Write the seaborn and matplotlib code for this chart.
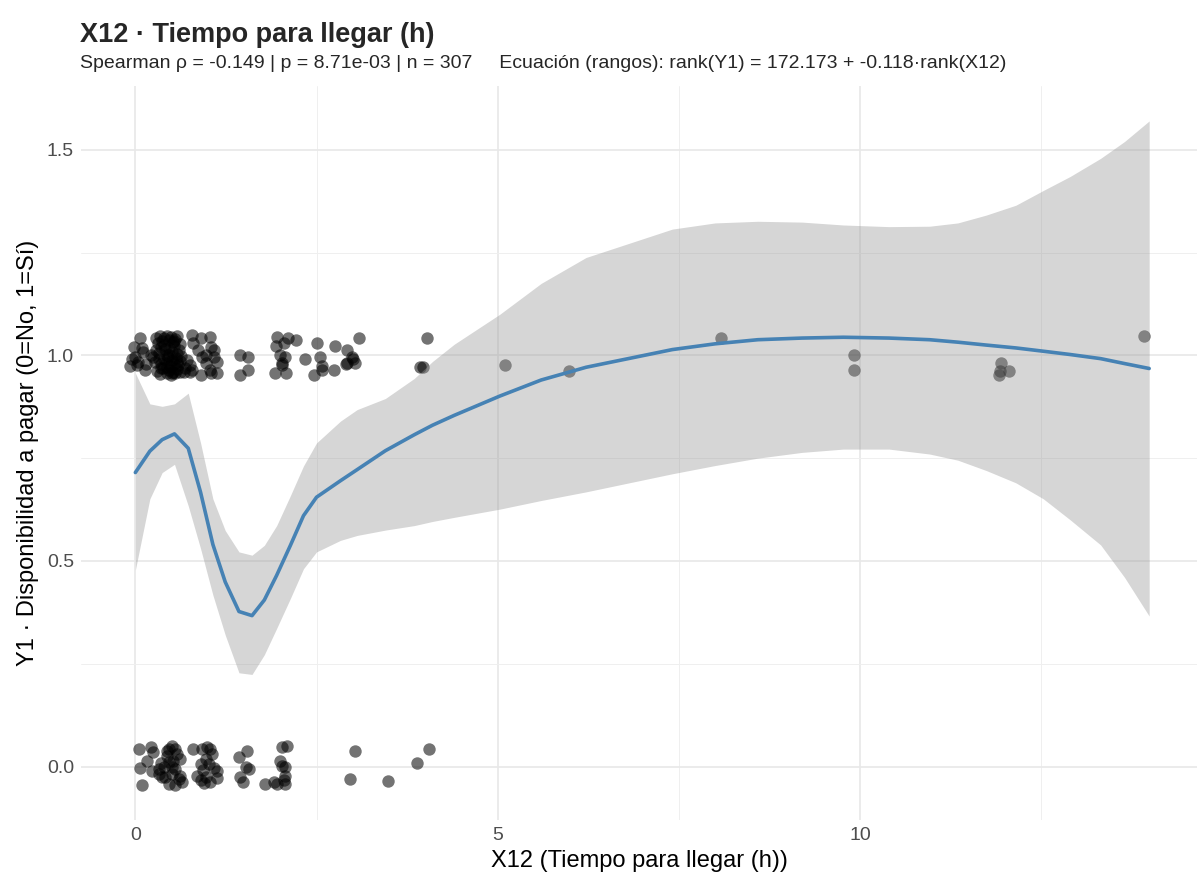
import numpy as np
import pandas as pd
import seaborn as sns
import matplotlib.pyplot as plt

# Puntos con Y1 = 1 (con jitter)
x_si = [-0.07, -0.02, 0.00, 0.07, 0.09, 0.02, 0.03, 0.11, 0.14, 0.15, -0.05, 0.21, 0.24,
        0.28, 0.31, 0.34, 0.37, 0.40, 0.43, 0.46, 0.49, 0.52, 0.55, 0.58, 0.61,
        0.29, 0.33, 0.36, 0.41, 0.44, 0.47, 0.50, 0.53, 0.57, 0.60, 0.63,
        0.27, 0.32, 0.35, 0.39, 0.42, 0.45, 0.48, 0.51, 0.54, 0.56, 0.59, 0.62,
        0.30, 0.34, 0.38, 0.43, 0.46, 0.49, 0.52, 0.55, 0.58, 0.61,
        0.36, 0.40, 0.44, 0.47, 0.50, 0.53, 0.57,
        0.78, 0.90, 1.03, 1.04, 0.80, 0.87, 1.08, 0.71, 0.75, 0.78, 0.92, 0.97, 0.98,
        1.09, 1.13, 1.03, 1.04, 0.90, 0.76, 0.67, 0.69, 1.12,
        1.44, 1.56, 1.56, 1.45,
        1.95, 2.10, 2.21, 1.94, 2.05, 2.00, 2.07, 2.02, 2.03, 1.93, 2.08,
        2.34, 2.51, 2.55, 2.57, 2.46, 2.58, 2.74, 2.76, 2.92, 2.99, 3.00, 2.92, 3.03,
        3.09, 2.91,
        4.03, 3.93, 3.97, 5.10, 5.98, 8.08, 9.91, 9.91, 11.94, 11.93, 11.92, 12.06, 13.92]
y_si = [0.973, 1.021, 0.997, 1.041, 1.017, 0.977, 0.985, 1.009, 0.965, 0.980, 0.990, 1.001, 0.997,
        1.043, 1.030, 1.046, 1.035, 1.041, 1.048, 1.038, 1.044, 1.032, 1.040, 1.046, 1.028,
        1.012, 1.005, 1.020, 1.015, 1.002, 1.018, 1.009, 1.022, 1.004, 1.014, 0.998,
        0.985, 0.992, 0.978, 0.990, 0.982, 0.995, 0.975, 0.988, 0.980, 0.993, 0.976, 0.986,
        0.962, 0.955, 0.968, 0.958, 0.965, 0.952, 0.960, 0.956, 0.966, 0.959,
        0.970, 1.025, 0.972, 1.000, 0.958, 1.036, 0.983,
        1.049, 1.041, 1.045, 1.021, 1.029, 1.013, 1.013, 0.989, 0.977, 0.965, 0.997, 0.981, 1.000,
        0.997, 0.985, 0.965, 0.957, 0.952, 0.960, 0.960, 0.970, 0.957,
        1.001, 0.995, 0.965, 0.951,
        1.045, 1.041, 1.037, 1.022, 1.029, 1.001, 0.997, 0.981, 0.977, 0.958, 0.957,
        0.990, 1.029, 0.997, 0.973, 0.952, 0.965, 0.965, 1.022, 1.013, 0.997, 0.990, 0.981, 0.981,
        1.041, 0.978,
        1.041, 0.971, 0.971, 0.977, 0.963, 1.041, 1.000, 0.965, 0.981, 0.961, 0.952, 0.963, 1.046]

# Puntos con Y1 = 0
x_no = [0.05, 0.21, 0.25, 0.16, 0.07, 0.23, 0.09, 0.37,
        0.46, 0.50, 0.55, 0.62, 0.44, 0.39, 0.50, 0.55, 0.32, 0.41, 0.46, 0.55, 0.64, 0.62,
        0.33, 0.50, 0.52, 0.47, 0.43, 0.58, 0.36, 0.60,
        0.80, 0.92, 0.99, 1.03, 1.06, 0.97, 0.90, 1.01, 0.94, 1.08, 0.85, 0.97, 0.90, 1.03,
        1.12, 0.95, 1.12,
        1.43, 1.54, 1.52, 1.57, 1.45, 1.49, 1.79, 1.91, 1.95, 2.07, 2.02, 2.09, 2.00, 2.02,
        2.07, 2.07, 2.05,
        3.03, 2.96, 3.48, 3.89, 4.05]
y_no = [0.043, 0.047, 0.035, 0.014, -0.003, -0.010, -0.046, -0.026,
        0.043, 0.050, 0.043, 0.019, 0.026, 0.000, 0.000, -0.005, -0.005, -0.025, -0.042, -0.046,
        -0.038, -0.022, -0.017, -0.019, 0.014, 0.010, 0.038, 0.030, 0.008, -0.030,
        0.043, 0.043, 0.047, 0.043, 0.030, 0.019, 0.005, 0.005, -0.008, -0.003, -0.022, -0.025,
        -0.033, -0.038, -0.010, -0.040, -0.027,
        0.023, 0.039, 0.000, -0.005, -0.026, -0.038, -0.042, -0.038, -0.042, -0.042, 0.047,
        0.051, 0.014, 0.002, 0.000, -0.022, -0.033,
        0.037, -0.030, -0.036, 0.008, 0.043]

# Curva LOESS y banda de confianza
fit_x = [0.0, 0.2, 0.37, 0.54, 0.73, 0.9, 1.07, 1.24, 1.43, 1.61, 1.78, 1.95, 2.14, 2.32,
         2.5, 2.83, 3.06, 3.45, 3.85, 4.1, 4.4, 5.03, 5.6, 6.22, 7.41, 8.0, 8.59, 9.2, 9.77,
         10.4, 10.96, 11.35, 11.74, 12.15, 12.53, 12.9, 13.32, 13.65, 13.99]
fit_y = [0.715, 0.767, 0.795, 0.809, 0.774, 0.667, 0.540, 0.449, 0.377, 0.367, 0.405,
         0.465, 0.538, 0.610, 0.655, 0.695, 0.722, 0.768, 0.807, 0.830, 0.854, 0.901, 0.940,
         0.971, 1.014, 1.028, 1.038, 1.042, 1.044, 1.042, 1.038, 1.032, 1.025, 1.018, 1.010,
         1.002, 0.992, 0.980, 0.968]
ci_hi = [0.957, 0.882, 0.876, 0.882, 0.908, 0.787, 0.651, 0.574, 0.522, 0.514, 0.538,
         0.586, 0.659, 0.731, 0.787, 0.840, 0.868, 0.895, 0.944, 0.985, 1.027, 1.100, 1.175,
         1.238, 1.307, 1.322, 1.326, 1.324, 1.317, 1.313, 1.314, 1.322, 1.341, 1.365, 1.401,
         1.435, 1.479, 1.520, 1.570]
ci_lo = [0.478, 0.651, 0.715, 0.735, 0.634, 0.530, 0.417, 0.320, 0.228, 0.224, 0.272,
         0.336, 0.409, 0.481, 0.522, 0.550, 0.562, 0.575, 0.586, 0.596, 0.606, 0.626, 0.647,
         0.668, 0.712, 0.732, 0.750, 0.764, 0.772, 0.772, 0.760, 0.745, 0.720, 0.690, 0.651,
         0.600, 0.539, 0.460, 0.366]

titulo = "X12 · Tiempo para llegar (h)"
subtitulo = ("Spearman ρ = -0.149 | p = 8.71e-03 | n = 307     "
             "Ecuación (rangos): rank(Y1) = 172.173 + -0.118·rank(X12)")

sns.set_theme(style="whitegrid")
plt.rcParams['font.family'] = ['Liberation Sans', 'DejaVu Sans']

puntos = pd.DataFrame({'x': x_si + x_no, 'y': y_si + y_no})
curva = pd.DataFrame({'x': fit_x, 'y': fit_y})

fig = plt.figure(figsize=(11.97, 8.76), dpi=100)
ax = fig.add_axes([81 / 1197, 56 / 876, 1116 / 1197, 734 / 876])

sns.scatterplot(data=puntos, x='x', y='y', color='black', alpha=0.55, s=80,
                linewidth=0, ax=ax, zorder=2)
ax.fill_between(fit_x, ci_lo, ci_hi, color='#999999', alpha=0.4, linewidth=0, zorder=3)
sns.lineplot(data=curva, x='x', y='y', color='#4682B4', linewidth=2.6, ax=ax, zorder=4)

ax.set_xlim(-0.75, 14.65)
ax.set_ylim(-0.13, 1.655)
ax.set_xticks([0, 5, 10])
ax.set_yticks([0.0, 0.5, 1.0, 1.5])
ax.set_yticklabels(['0.0', '0.5', '1.0', '1.5'])
ax.set_xticks([2.5, 7.5, 12.5], minor=True)
ax.set_yticks([0.25, 0.75, 1.25], minor=True)

ax.set_facecolor('white')
ax.grid(which='major', color='#e8e8e8', linewidth=1.2)
ax.grid(which='minor', color='#efefef', linewidth=0.7)
for s in ax.spines.values():
    s.set_visible(False)
ax.tick_params(which='both', length=0, labelsize=14, colors='#4d4d4d', pad=5)

ax.set_xlabel('X12 (Tiempo para llegar (h))', fontsize=17, color='black', labelpad=4)
ax.set_ylabel('Y1 · Disponibilidad a pagar (0=No, 1=Sí)', fontsize=17, color='black',
              labelpad=6)

fig.text(80 / 1197, 1 - 42 / 876, titulo, fontsize=19.5, fontweight='bold', ha='left')
fig.text(80 / 1197, 1 - 68 / 876, subtitulo, fontsize=14, ha='left')

fig.savefig('out.png', dpi=100)
